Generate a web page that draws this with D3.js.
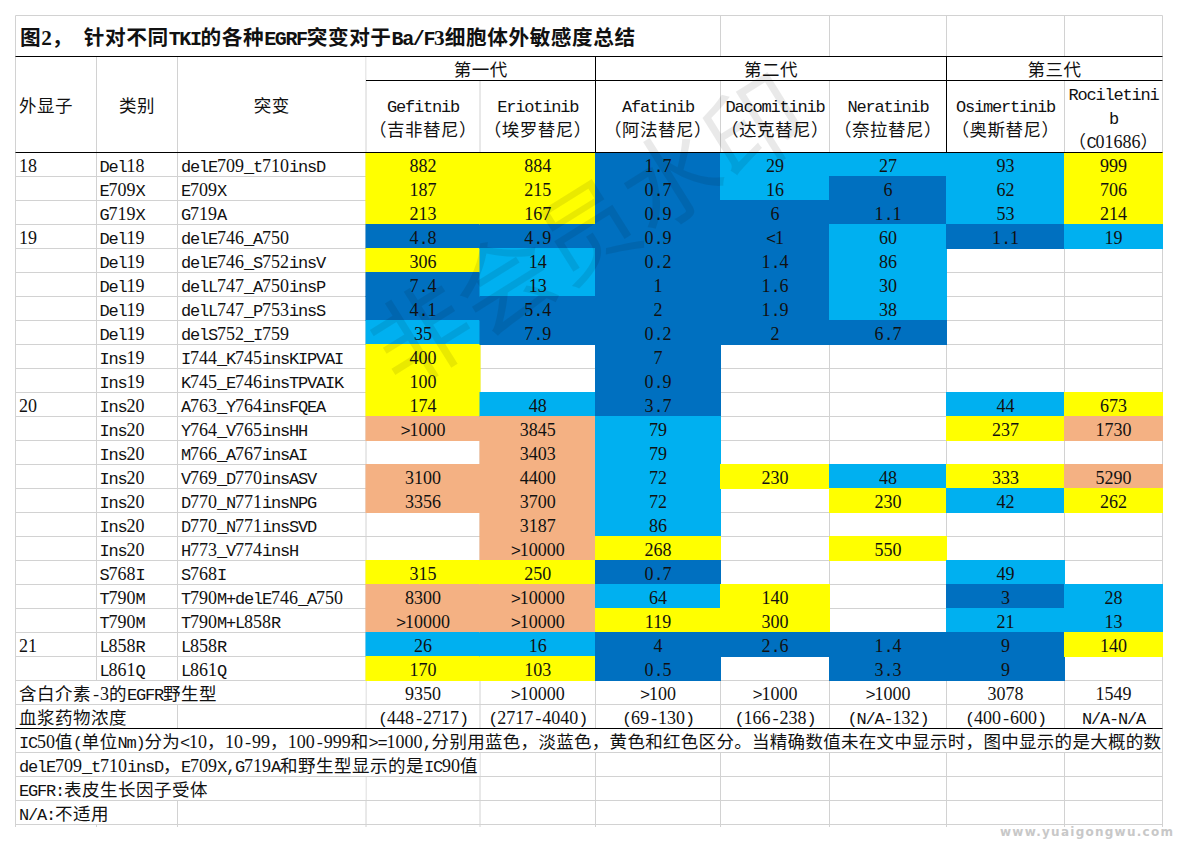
<!DOCTYPE html>
<html>
<head>
<meta charset="utf-8">
<script src="https://cdn.jsdelivr.net/npm/d3@7"></script>
<style>
  html, body { margin: 0; padding: 0; background: #fff; }
  svg { display: block; }
  text { white-space: pre; fill: #111; }
</style>
</head>
<body>
<div id="chart"></div>
<script>
const title = '图2， 针对不同TKI的各种EGRF突变对于Ba/F3细胞体外敏感度总结';

const generations = ['第一代', '第二代', '第三代'];
const drugs = ['Gefitnib', 'Eriotinib', 'Afatinib', 'Dacomitinib', 'Neratinib', 'Osimertinib', 'Rociletinib'];
const drugsCn = ['（吉非替尼）', '（埃罗替尼）', '（阿法替尼）', '（达克替尼）', '（奈拉替尼）', '（奥斯替尼）', '（C01686）'];

const exons = ['18', '', '', '19', '', '', '', '', '', '', '20', '', '', '', '', '', '', '', '', '', '21', ''];
const categories = ['Del18', 'E709X', 'G719X', 'Del19', 'Del19', 'Del19', 'Del19', 'Del19', 'Ins19', 'Ins19', 'Ins20',
  'Ins20', 'Ins20', 'Ins20', 'Ins20', 'Ins20', 'Ins20', 'S768I', 'T790M', 'T790M', 'L858R', 'L861Q'];
const mutations = ['delE709_t710insD', 'E709X', 'G719A', 'delE746_A750', 'delE746_S752insV', 'delL747_A750insP',
  'delL747_P753insS', 'delS752_I759', 'I744_K745insKIPVAI', 'K745_E746insTPVAIK', 'A763_Y764insFQEA',
  'Y764_V765insHH', 'M766_A767insAI', 'V769_D770insASV', 'D770_N771insNPG', 'D770_N771insSVD', 'H773_V774insH',
  'S768I', 'T790M+delE746_A750', 'T790M+L858R', 'L858R', 'L861Q'];

const gefitnib = ['882', '187', '213', '4.8', '306', '7.4', '4.1', '35', '400', '100', '174', '>1000', '', '3100', '3356', '', '', '315', '8300', '>10000', '26', '170'];
const eriotinib = ['884', '215', '167', '4.9', '14', '13', '5.4', '7.9', '', '', '48', '3845', '3403', '4400', '3700', '3187', '>10000', '250', '>10000', '>10000', '16', '103'];
const afatinib = ['1.7', '0.7', '0.9', '0.9', '0.2', '1', '2', '0.2', '7', '0.9', '3.7', '79', '79', '72', '72', '86', '268', '0.7', '64', '119', '4', '0.5'];
const dacomitinib = ['29', '16', '6', '<1', '1.4', '1.6', '1.9', '2', '', '', '', '', '', '230', '', '', '', '', '140', '300', '2.6', ''];
const neratinib = ['27', '6', '1.1', '60', '86', '30', '38', '6.7', '', '', '', '', '', '48', '230', '', '550', '', '', '', '1.4', '3.3'];
const osimertinib = ['93', '62', '53', '1.1', '', '', '', '', '', '', '44', '237', '', '333', '42', '', '', '49', '3', '21', '9', '9'];
const rociletinib = ['999', '706', '214', '19', '', '', '', '', '', '', '673', '1730', '', '5290', '262', '', '', '', '28', '13', '140', ''];
const drugValues = [gefitnib, eriotinib, afatinib, dacomitinib, neratinib, osimertinib, rociletinib];

const wildType = ['9350', '>10000', '>100', '>1000', '>1000', '3078', '1549'];
const plasma = ['(448-2717)', '(2717-4040)', '(69-130)', '(166-238)', '(N/A-132)', '(400-600)', 'N/A-N/A'];

const notes = [
  'IC50值(单位Nm)分为<10，10-99，100-999和>=1000,分别用蓝色，淡蓝色，黄色和红色区分。当精确数值未在文中显示时，图中显示的是大概的数',
  'delE709_t710insD，E709X,G719A和野生型显示的是IC90值',
  'EGFR:表皮生长因子受体',
  'N/A:不适用'
];

const width = 1178;
const height = 843;
const sheetTop = 15.5;
const titleBottom = 56.5;
const genBottom = 80.5;
const headBottom = 152.5;
const gridBottom = 827;
const grey = '#d2d2d2';

const columnKeys = ['exon', 'category', 'mutation', ...drugs, 'end'];
const x = d3.scaleOrdinal()
    .domain(columnKeys)
    .range([15.5, 96.5, 177.5, 366, 480, 595.5, 720.5, 829.5, 946.5, 1064.5, 1162.5]);
const center = k => (x(k) + x(columnKeys[columnKeys.indexOf(k) + 1])) / 2;
const nextX = k => x(columnKeys[columnKeys.indexOf(k) + 1]);

const rowCount = mutations.length + 2 + notes.length;
const y = d3.scaleBand()
    .domain(d3.range(rowCount))
    .range([headBottom, headBottom + rowCount * 24]);
const baseline = i => y(i) + y.bandwidth() - 4.5;

const fillScale = d3.scaleThreshold()
    .domain([10, 100, 1000])
    .range(['#0070c0', '#00b0f0', '#ffff00', '#f4b183']);
const parseValue = v => +v.replace(/[<>]/g, '');

const svg = d3.select('#chart').append('svg')
    .attr('width', width)
    .attr('height', height)
    .attr('viewBox', [0, 0, width, height]);

// sheet gridlines
const grid = svg.append('g')
    .attr('stroke', grey)
    .attr('stroke-width', 1);

grid.selectAll('.v')
  .data(columnKeys)
  .join('line')
    .attr('class', 'v')
    .attr('x1', d => x(d))
    .attr('x2', d => x(d))
    .attr('y1', sheetTop)
    .attr('y2', gridBottom);

grid.selectAll('.h')
  .data([sheetTop, ...d3.range(rowCount).map(i => y(i) + y.bandwidth())])
  .join('line')
    .attr('class', 'h')
    .attr('x1', x('exon'))
    .attr('x2', x('end'))
    .attr('y1', d => d)
    .attr('y2', d => d);

// merged cells and text that runs over its neighbours hide the gridlines
const row = {wild: mutations.length, plasma: mutations.length + 1, note: mutations.length + 2};
const covers = [
  [x('exon'), x('Dacomitinib'), sheetTop, titleBottom],
  [x('Gefitnib'), x('Afatinib'), titleBottom, genBottom],
  [x('Afatinib'), x('Osimertinib'), titleBottom, genBottom],
  [x('Osimertinib'), x('end'), titleBottom, genBottom],
  [x('exon'), x('Gefitnib'), y(row.wild), y(row.wild) + 24],
  [x('exon'), x('mutation'), y(row.plasma), y(row.plasma) + 24],
  [x('exon'), x('end'), y(row.note), y(row.note) + 24],
  [x('exon'), x('Eriotinib'), y(row.note + 1), y(row.note + 1) + 24],
  [x('exon'), x('Gefitnib'), y(row.note + 2), y(row.note + 2) + 24],
  [x('exon'), x('mutation'), y(row.note + 3), y(row.note + 3) + 24]
];

svg.append('g')
    .attr('fill', '#fff')
  .selectAll('rect')
  .data(covers)
  .join('rect')
    .attr('x', d => d[0] + 0.5)
    .attr('y', d => d[2] + 0.5)
    .attr('width', d => d[1] - d[0] - 1)
    .attr('height', d => d[3] - d[2] - 1);

// coloured cells
const cells = drugs.flatMap((drug, c) => drugValues[c].map((value, i) => ({drug, value, i})));

svg.append('g')
  .selectAll('rect')
  .data(cells.filter(d => d.value !== ''))
  .join('rect')
    .attr('x', d => x(d.drug) - 0.5)
    .attr('y', d => y(d.i) - 0.5)
    .attr('width', d => nextX(d.drug) - x(d.drug) + 1)
    .attr('height', y.bandwidth() + 1)
    .attr('fill', d => fillScale(parseValue(d.value)));

// black rules
const rules = [
  [x('exon'), x('end'), titleBottom, titleBottom],
  [x('Gefitnib'), x('end'), genBottom, genBottom],
  [x('exon'), x('end'), headBottom, headBottom],
  [x('exon'), x('end'), y(row.note), y(row.note)],
  [x('Afatinib'), x('Afatinib'), titleBottom, headBottom],
  [x('Osimertinib'), x('Osimertinib'), titleBottom, headBottom]
];

svg.append('g')
    .attr('stroke', '#000')
    .attr('stroke-width', 1)
  .selectAll('line')
  .data(rules)
  .join('line')
    .attr('x1', d => d[0])
    .attr('x2', d => d[1])
    .attr('y1', d => d[2])
    .attr('y2', d => d[3]);

// The sheet font has half-width latin and full-width CJK, so split strings into runs
function addRuns(sel) {
  sel.each(function(d) {
    const t = d3.select(this);
    const k = d.scale;
    const runs = d.text.match(/[0-9]+|[^0-9\u0080-\uffff]+|[\u0080-\uffff]+/g) || [];
    runs.forEach(run => {
      const span = t.append('tspan').text(run);
      if (/^[0-9]/.test(run)) {
        span.attr('font-family', '"Liberation Serif"').attr('font-size', 18 * k);
      } else if (/^[\u0080-\uffff]/.test(run)) {
        span.attr('font-family', '"Noto Sans CJK SC"').attr('font-size', 17.5 * k).attr('letter-spacing', d.cjkGap * k);
      } else {
        span.attr('font-family', '"Liberation Mono"').attr('font-size', 17 * k).attr('letter-spacing', -1.2 * k);
      }
    });
  });
}

const labels = [];
const put = (text, px, py, anchor = 'start', weight = 400, scale = 1, cjkGap = 0.5) => {
  if (text !== '') labels.push({text, px, py, anchor, weight, scale, cjkGap});
};

put(title, 20, 45, 'start', 700, 21.25 / 18);
put('外显子', 19, 112);
put('类别', center('category'), 112, 'middle');
put('突变', center('mutation'), 112, 'middle');
put(generations[0], (x('Gefitnib') + x('Afatinib')) / 2, 76, 'middle');
put(generations[1], (x('Afatinib') + x('Osimertinib')) / 2, 76, 'middle');
put(generations[2], (x('Osimertinib') + x('end')) / 2, 76, 'middle');

drugs.forEach((drug, c) => {
  if (drug === 'Rociletinib') {
    put('Rociletini', center(drug), 100, 'middle');
    put('b', center(drug), 124, 'middle');
    put(drugsCn[c], center(drug), 148, 'middle');
  } else {
    put(drug, center(drug), 112, 'middle');
    put(drugsCn[c], center(drug), 136, 'middle');
  }
});

mutations.forEach((m, i) => {
  put(exons[i], x('exon') + 3.5, baseline(i));
  put(categories[i], x('category') + 3, baseline(i));
  put(m, x('mutation') + 3.5, baseline(i));
});

cells.forEach(d => put(d.value, center(d.drug), baseline(d.i), 'middle'));

put('含白介素-3的EGFR野生型', 19, baseline(row.wild));
put('血浆药物浓度', 19, baseline(row.plasma));
drugs.forEach((drug, c) => {
  put(wildType[c], center(drug), baseline(row.wild), 'middle');
  put(plasma[c], center(drug), baseline(row.plasma), 'middle');
});
// first note fills the sheet width, tighten it a little so it stops at the last column
notes.forEach((n, i) => put(n, 19, baseline(row.note + i), 'start', 400, 1, i === 0 ? 0.3 : 0.5));

svg.append('g')
  .selectAll('text')
  .data(labels)
  .join('text')
    .attr('x', d => d.px)
    .attr('y', d => d.py)
    .attr('text-anchor', d => d.anchor)
    .attr('font-weight', d => d.weight)
    .call(addRuns);

// watermarks
svg.append('text')
    .attr('transform', 'translate(584,225) rotate(-32)')
    .attr('text-anchor', 'middle')
    .attr('dominant-baseline', 'central')
    .attr('font-family', '"Noto Sans CJK SC"')
    .attr('font-size', 98)
    .style('fill', 'rgba(0,0,0,0.085)')
    .text('非会员水印');

svg.append('text')
    .attr('x', 1000)
    .attr('y', 836)
    .attr('font-family', '"DejaVu Sans"')
    .attr('font-weight', 700)
    .attr('font-size', 12)
    .attr('letter-spacing', 1.25)
    .style('fill', '#c8c8c8')
    .text('www.yuaigongwu.com');
</script>
</body>
</html>
